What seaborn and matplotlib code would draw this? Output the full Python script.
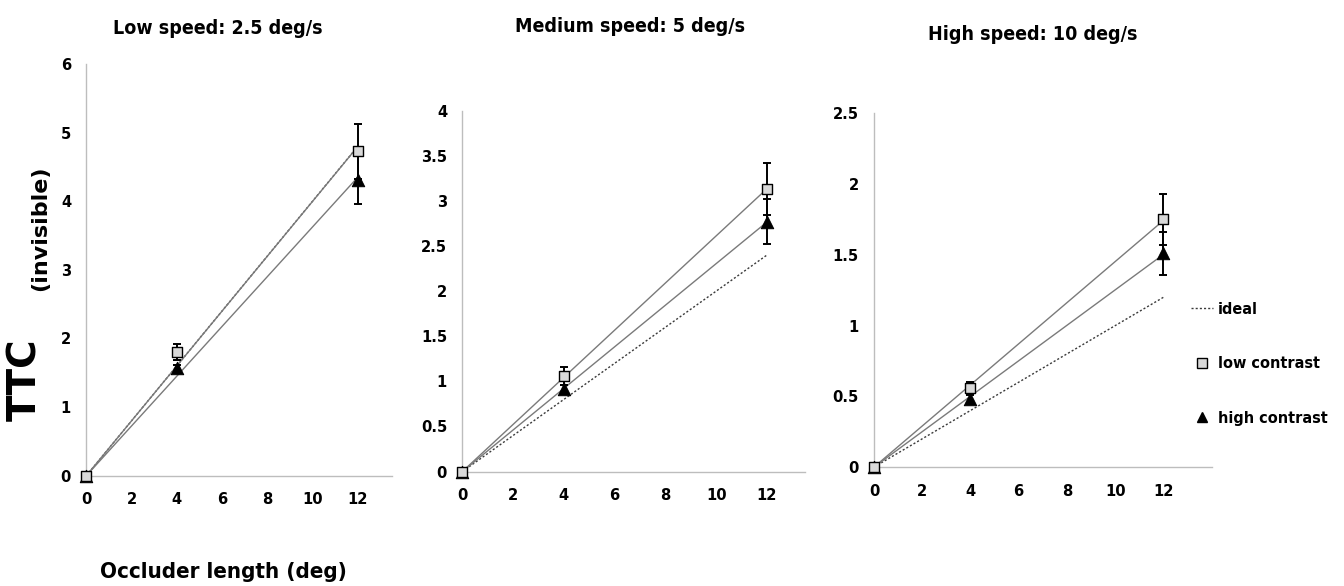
import numpy as np
import pandas as pd
import matplotlib
matplotlib.use("Agg")
import matplotlib.pyplot as plt
from matplotlib.lines import Line2D
import seaborn as sns

# Occluder lengths (deg)
occluder = [0, 4, 12]

# Panel titles
titles = ["Low speed: 2.5 deg/s", "Medium speed: 5 deg/s", "High speed: 10 deg/s"]

# Ideal time-to-contact per speed
ideal_low = [0, 1.6, 4.8]
ideal_med = [0, 0.8, 2.4]
ideal_high = [0, 0.4, 1.2]

# Low-contrast means and error bars
lowc_low = [0, 1.80, 4.73]
lowc_low_err = [0, 0.12, 0.40]
lowc_med = [0, 1.06, 3.13]
lowc_med_err = [0, 0.10, 0.29]
lowc_high = [0, 0.56, 1.75]
lowc_high_err = [0, 0.04, 0.18]

# High-contrast means and error bars
highc_low = [0, 1.57, 4.31]
highc_low_err = [0, 0.05, 0.35]
highc_med = [0, 0.91, 2.77]
highc_med_err = [0, 0.05, 0.25]
highc_high = [0, 0.48, 1.51]
highc_high_err = [0, 0.03, 0.15]

# y-axis ranges / steps per panel
y_max = [6, 4, 2.5]
y_step = [1, 0.5, 0.5]
x_max = [13.5, 13.5, 14]

sns.set_theme(style="white")
FONT = ["DejaVu Sans"]
plt.rcParams["font.family"] = FONT
plt.rcParams["font.stretch"] = "condensed"
plt.rcParams["font.weight"] = "bold"
plt.rcParams["text.color"] = "black"
plt.rcParams["xtick.color"] = "black"
plt.rcParams["ytick.color"] = "black"

W, H = 1344, 586
fig = plt.figure(figsize=(W / 100, H / 100), dpi=100)

# axes boxes in pixels: left, right, top, bottom
boxes = [(86.3, 391.7, 64.0, 475.7),
         (462.3, 805.0, 110.7, 471.6),
         (874.0, 1211.7, 113.3, 467.1)]

panels = [
    (ideal_low, lowc_low, lowc_low_err, highc_low, highc_low_err),
    (ideal_med, lowc_med, lowc_med_err, highc_med, highc_med_err),
    (ideal_high, lowc_high, lowc_high_err, highc_high, highc_high_err),
]

title_pos = [(218, 28), (630, 26), (1033, 35)]

x = np.array(occluder, dtype=float)
for i, (box, data) in enumerate(zip(boxes, panels)):
    l, r, t, b = box
    ax = fig.add_axes([l / W, (H - b) / H, (r - l) / W, (b - t) / H])
    ideal, lc, lc_err, hc, hc_err = data

    # dotted ideal line
    sns.lineplot(x=occluder, y=ideal, ax=ax, color="#3a3a3a", lw=1.0,
                 linestyle=(0, (1.5, 1.5)), legend=False)

    # least-squares trend lines through the origin
    for vals in (lc, hc):
        v = np.array(vals, dtype=float)
        slope = np.sum(x * v) / np.sum(x * x)
        xf = np.array([0.0, 12.0])
        sns.lineplot(x=xf, y=slope * xf, ax=ax, color="#7a7a7a", lw=1.0,
                     legend=False)

    # error bars
    for vals, errs in ((lc, lc_err), (hc, hc_err)):
        ax.errorbar(occluder, vals, yerr=errs, fmt="none", ecolor="black",
                    elinewidth=1.4, capsize=3, capthick=1.4, zorder=3,
                    clip_on=False)

    # markers
    sns.scatterplot(x=occluder, y=hc, ax=ax, marker="^", s=80,
                    color="black", edgecolor="black", zorder=4, legend=False)
    sns.scatterplot(x=occluder, y=lc, ax=ax, marker="s", s=60,
                    color="#d9d9d9", edgecolor="black", linewidth=1.0,
                    zorder=5, legend=False)
    for coll in ax.collections:
        coll.set_clip_on(False)

    ax.set_xlim(0, x_max[i])
    ax.set_ylim(0, y_max[i])
    ax.set_xticks(np.arange(0, 13, 2))
    yt = np.arange(0, y_max[i] + 1e-9, y_step[i])
    ax.set_yticks(yt)
    ax.set_yticklabels(["%g" % v for v in yt])
    ax.tick_params(axis="both", length=0, labelsize=11.8, labelcolor="black")
    ax.tick_params(axis="y", pad=11)
    ax.tick_params(axis="x", pad=12)
    for lab in ax.get_xticklabels() + ax.get_yticklabels():
        lab.set_fontweight("bold")
    for s in ("top", "right"):
        ax.spines[s].set_visible(False)
    for s in ("left", "bottom"):
        ax.spines[s].set_color("#bdbdbd")
        ax.spines[s].set_linewidth(1.0)
    ax.set_xlabel("")
    ax.set_ylabel("")

    tx, ty = title_pos[i]
    fig.text(tx / W, 1 - ty / H, titles[i], ha="center", va="center",
             fontsize=14, fontweight="bold", color="black")

# shared axis labels
fig.text(223 / W, 1 - 572 / H, "Occluder length (deg)", ha="center",
         va="center", fontsize=16, fontweight="bold")
fig.text(25 / W, 1 - 380 / H, "TTC", rotation=90, ha="center", va="center",
         fontsize=28, fontweight="heavy", fontstretch="normal")
fig.text(40 / W, 1 - 228 / H, "(invisible)", rotation=90, ha="center",
         va="center", fontsize=16, fontweight="bold", fontstretch="normal")

# legend
handles = [
    Line2D([], [], color="#3a3a3a", lw=1.0, linestyle=(0, (1.5, 1.5))),
    Line2D([], [], marker="s", linestyle="none", markersize=7.5,
           markerfacecolor="#d9d9d9", markeredgecolor="black"),
    Line2D([], [], marker="^", linestyle="none", markersize=7.5,
           markerfacecolor="black", markeredgecolor="black"),
]
labels = ["ideal", "low contrast", "high contrast"]
fig.legend(handles, labels, loc="upper left",
           bbox_to_anchor=(1191 / W, 1 - 302 / H), frameon=False,
           prop={"size": 11.6, "weight": "bold", "family": FONT,
                 "stretch": "condensed"},
           handlelength=1.35, handletextpad=0.3, labelspacing=2.45,
           borderaxespad=0, borderpad=0)

fig.savefig("out.png", dpi=100)
